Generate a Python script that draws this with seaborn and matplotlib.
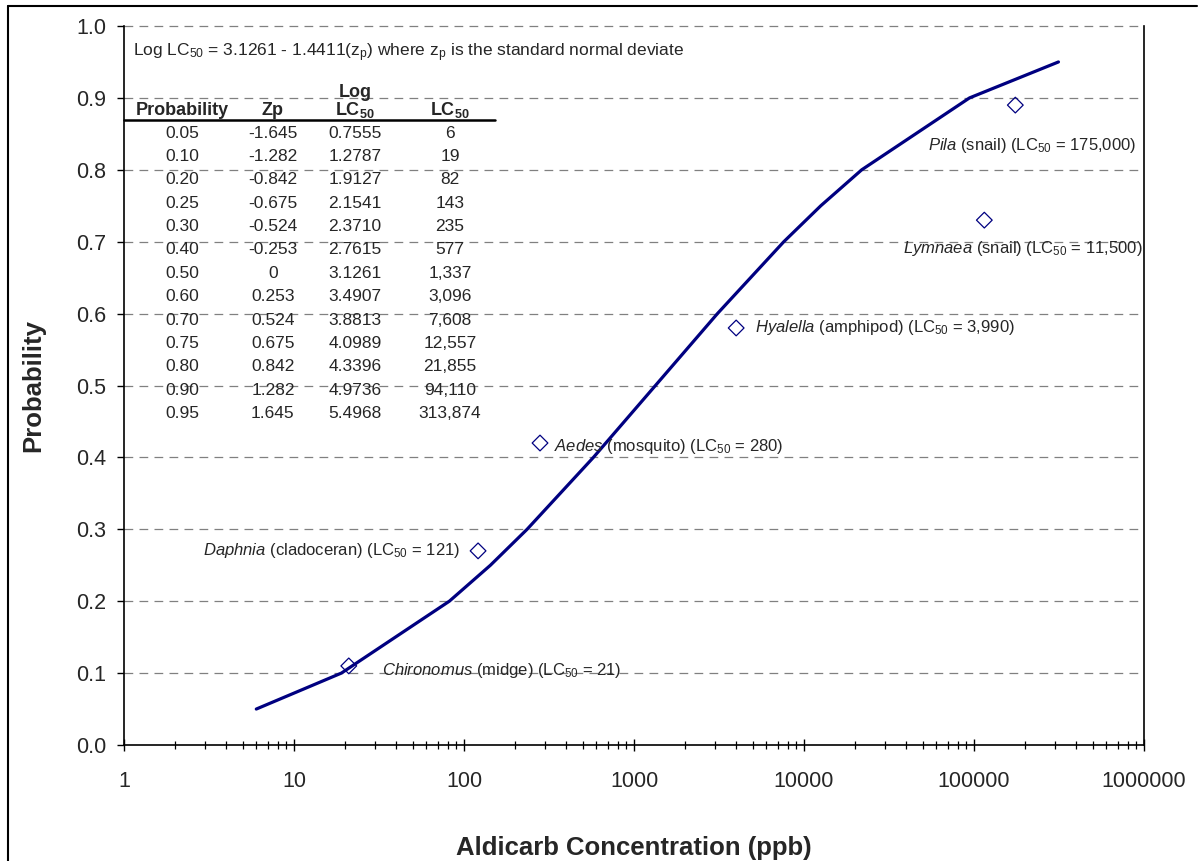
import matplotlib.pyplot as plt
import numpy as np
import pandas as pd
import seaborn as sns
from matplotlib.lines import Line2D
from matplotlib.ticker import FixedLocator, LogLocator, NullFormatter

# ---------------------------------------------------------------------------
# Data
# ---------------------------------------------------------------------------

# Probability table (lognormal fit): values
table_prob = [0.05, 0.10, 0.20, 0.25, 0.30, 0.40, 0.50, 0.60, 0.70, 0.75, 0.80, 0.90, 0.95]
table_zp = [-1.645, -1.282, -0.842, -0.675, -0.524, -0.253, 0, 0.253, 0.524, 0.675, 0.842, 1.282, 1.645]
table_log_lc50 = [0.7555, 1.2787, 1.9127, 2.1541, 2.3710, 2.7615, 3.1261, 3.4907,
                  3.8813, 4.0989, 4.3396, 4.9736, 5.4968]
table_lc50 = [6, 19, 82, 143, 235, 577, 1337, 3096, 7608, 12557, 21855, 94110, 313874]

# Species LC50 points
species = ["Chironomus", "Daphnia", "Aedes", "Hyalella", "Lymnaea", "Pila"]
species_common = ["midge", "cladoceran", "mosquito", "amphipod", "snail", "snail"]
species_label_lc50 = ["21", "121", "280", "3,990", "11,500", "175,000"]
species_conc = [21, 121, 280, 3990, 115000, 175000]
species_prob = [0.11, 0.27, 0.42, 0.58, 0.73, 0.89]

# ---------------------------------------------------------------------------
# Style
# ---------------------------------------------------------------------------
sns.set_style("ticks")
plt.rcParams["font.family"] = ["Liberation Sans", "DejaVu Sans"]
plt.rcParams["mathtext.fontset"] = "custom"
plt.rcParams["mathtext.rm"] = "Liberation Sans"
plt.rcParams["mathtext.it"] = "Liberation Sans:italic"
plt.rcParams["mathtext.bf"] = "Liberation Sans:bold"

NAVY = "#000080"

fig = plt.figure(figsize=(12.03, 8.61), dpi=100)
ax = fig.add_axes([124 / 1203, 116 / 861, 1020 / 1203, 719 / 861])

curve_df = pd.DataFrame({"lc50": table_lc50, "prob": table_prob})
points_df = pd.DataFrame({"conc": species_conc, "prob": species_prob})

sns.lineplot(data=curve_df, x="lc50", y="prob", color=NAVY, linewidth=2.3,
             sort=False, ax=ax, zorder=3)
sns.scatterplot(data=points_df, x="conc", y="prob", marker="D", s=64,
                facecolor="none", edgecolor=NAVY, linewidth=0.9, ax=ax, zorder=4)

ax.set_xscale("log")
ax.set_xlim(1, 1e6)
ax.set_ylim(0, 1.0)

# Gridlines (dashed gray) at every y tick
ax.set_yticks(np.arange(0, 1.01, 0.1))
ax.set_yticklabels([f"{v:.1f}" for v in np.arange(0, 1.01, 0.1)])
for yv in np.arange(0.1, 1.01, 0.1):
    ax.axhline(yv, color="#808080", linewidth=0.9, linestyle=(0, (7, 5)),
               zorder=1, clip_on=False)

ax.xaxis.set_major_locator(FixedLocator([1, 10, 100, 1000, 1e4, 1e5, 1e6]))
ax.set_xticklabels(["1", "10", "100", "1000", "10000", "100000", "1000000"])
ax.xaxis.set_minor_locator(LogLocator(base=10, subs=np.arange(2, 10), numticks=20))
ax.xaxis.set_minor_formatter(NullFormatter())

ax.tick_params(axis="x", which="major", direction="inout", length=9, width=1,
               labelsize=15.5, pad=14, color="black")
ax.tick_params(axis="x", which="minor", direction="inout", length=6, width=0.9,
               color="black")
ax.tick_params(axis="y", which="major", direction="out", length=5, width=1,
               labelsize=15.5, pad=8, color="black")

for side in ["left", "right", "bottom"]:
    ax.spines[side].set_color("black")
    ax.spines[side].set_linewidth(1.2)
ax.spines["top"].set_visible(False)

ax.set_xlabel("Aldicarb Concentration (ppb)", fontsize=18.5, fontweight="bold",
              labelpad=32)
ax.set_ylabel("Probability", fontsize=18.5, fontweight="bold", labelpad=22)

# ---------------------------------------------------------------------------
# Species annotations
# ---------------------------------------------------------------------------
label_offsets = [(33, -5), (-18, 0), (14, -3), (19, 0), (158, -28), (121, -40)]
label_ha = ["left", "right", "left", "left", "right", "right"]
for name, common, lab, xv, yv, off, ha in zip(species, species_common,
                                              species_label_lc50, species_conc,
                                              species_prob, label_offsets, label_ha):
    ax.annotate(rf"$\it{{{name}}}$ ({common}) (LC$_{{50}}$ = {lab})",
                xy=(xv, yv), xytext=off, textcoords="offset pixels",
                ha=ha, va="center", fontsize=12, zorder=5)

# ---------------------------------------------------------------------------
# Inset table
# ---------------------------------------------------------------------------
ax.text(0.0088, 0.9624,
        r"Log LC$_{50}$ = 3.1261 - 1.4411(z$_\mathrm{p}$) where z$_\mathrm{p}$ is the standard normal deviate",
        transform=ax.transAxes, ha="left", va="center", fontsize=12.5)

col_x = [0.0569, 0.146, 0.2265, 0.3196]
header_y = 0.883
ax.text(col_x[0], header_y, "Probability", transform=ax.transAxes, ha="center",
        va="center", fontsize=13, fontweight="bold")
ax.text(col_x[1], header_y, "Zp", transform=ax.transAxes, ha="center",
        va="center", fontsize=13, fontweight="bold")
ax.text(col_x[2], 0.908, "Log", transform=ax.transAxes, ha="center",
        va="center", fontsize=13, fontweight="bold")
ax.text(col_x[2], header_y, r"LC$_\mathbf{50}$", transform=ax.transAxes,
        ha="center", va="center", fontsize=13, fontweight="bold")
ax.text(col_x[3], header_y, r"LC$_\mathbf{50}$", transform=ax.transAxes,
        ha="center", va="center", fontsize=13, fontweight="bold")
ax.add_line(Line2D([0, 0.364], [0.869, 0.869], transform=ax.transAxes,
                   color="black", linewidth=1.8, clip_on=False))

row_y0 = 0.851
row_step = 0.0325
for i, (p, z, lg, lc) in enumerate(zip(table_prob, table_zp, table_log_lc50, table_lc50)):
    yy = row_y0 - i * row_step
    z_txt = "0" if z == 0 else f"{z:.3f}"
    for cx, txt in zip(col_x, [f"{p:.2f}", z_txt, f"{lg:.4f}", f"{lc:,}"]):
        ax.text(cx, yy, txt, transform=ax.transAxes, ha="center", va="center",
                fontsize=12.5)

# Partial outer frame (left and top edges only)
fig.add_artist(Line2D([8 / 1203, 8 / 1203], [0, 1 - 6 / 861], color="black",
                      linewidth=1.5, transform=fig.transFigure))
fig.add_artist(Line2D([8 / 1203, 1197 / 1203], [1 - 6 / 861, 1 - 6 / 861],
                      color="black", linewidth=1.5, transform=fig.transFigure))

fig.savefig("out.png", dpi=100)
